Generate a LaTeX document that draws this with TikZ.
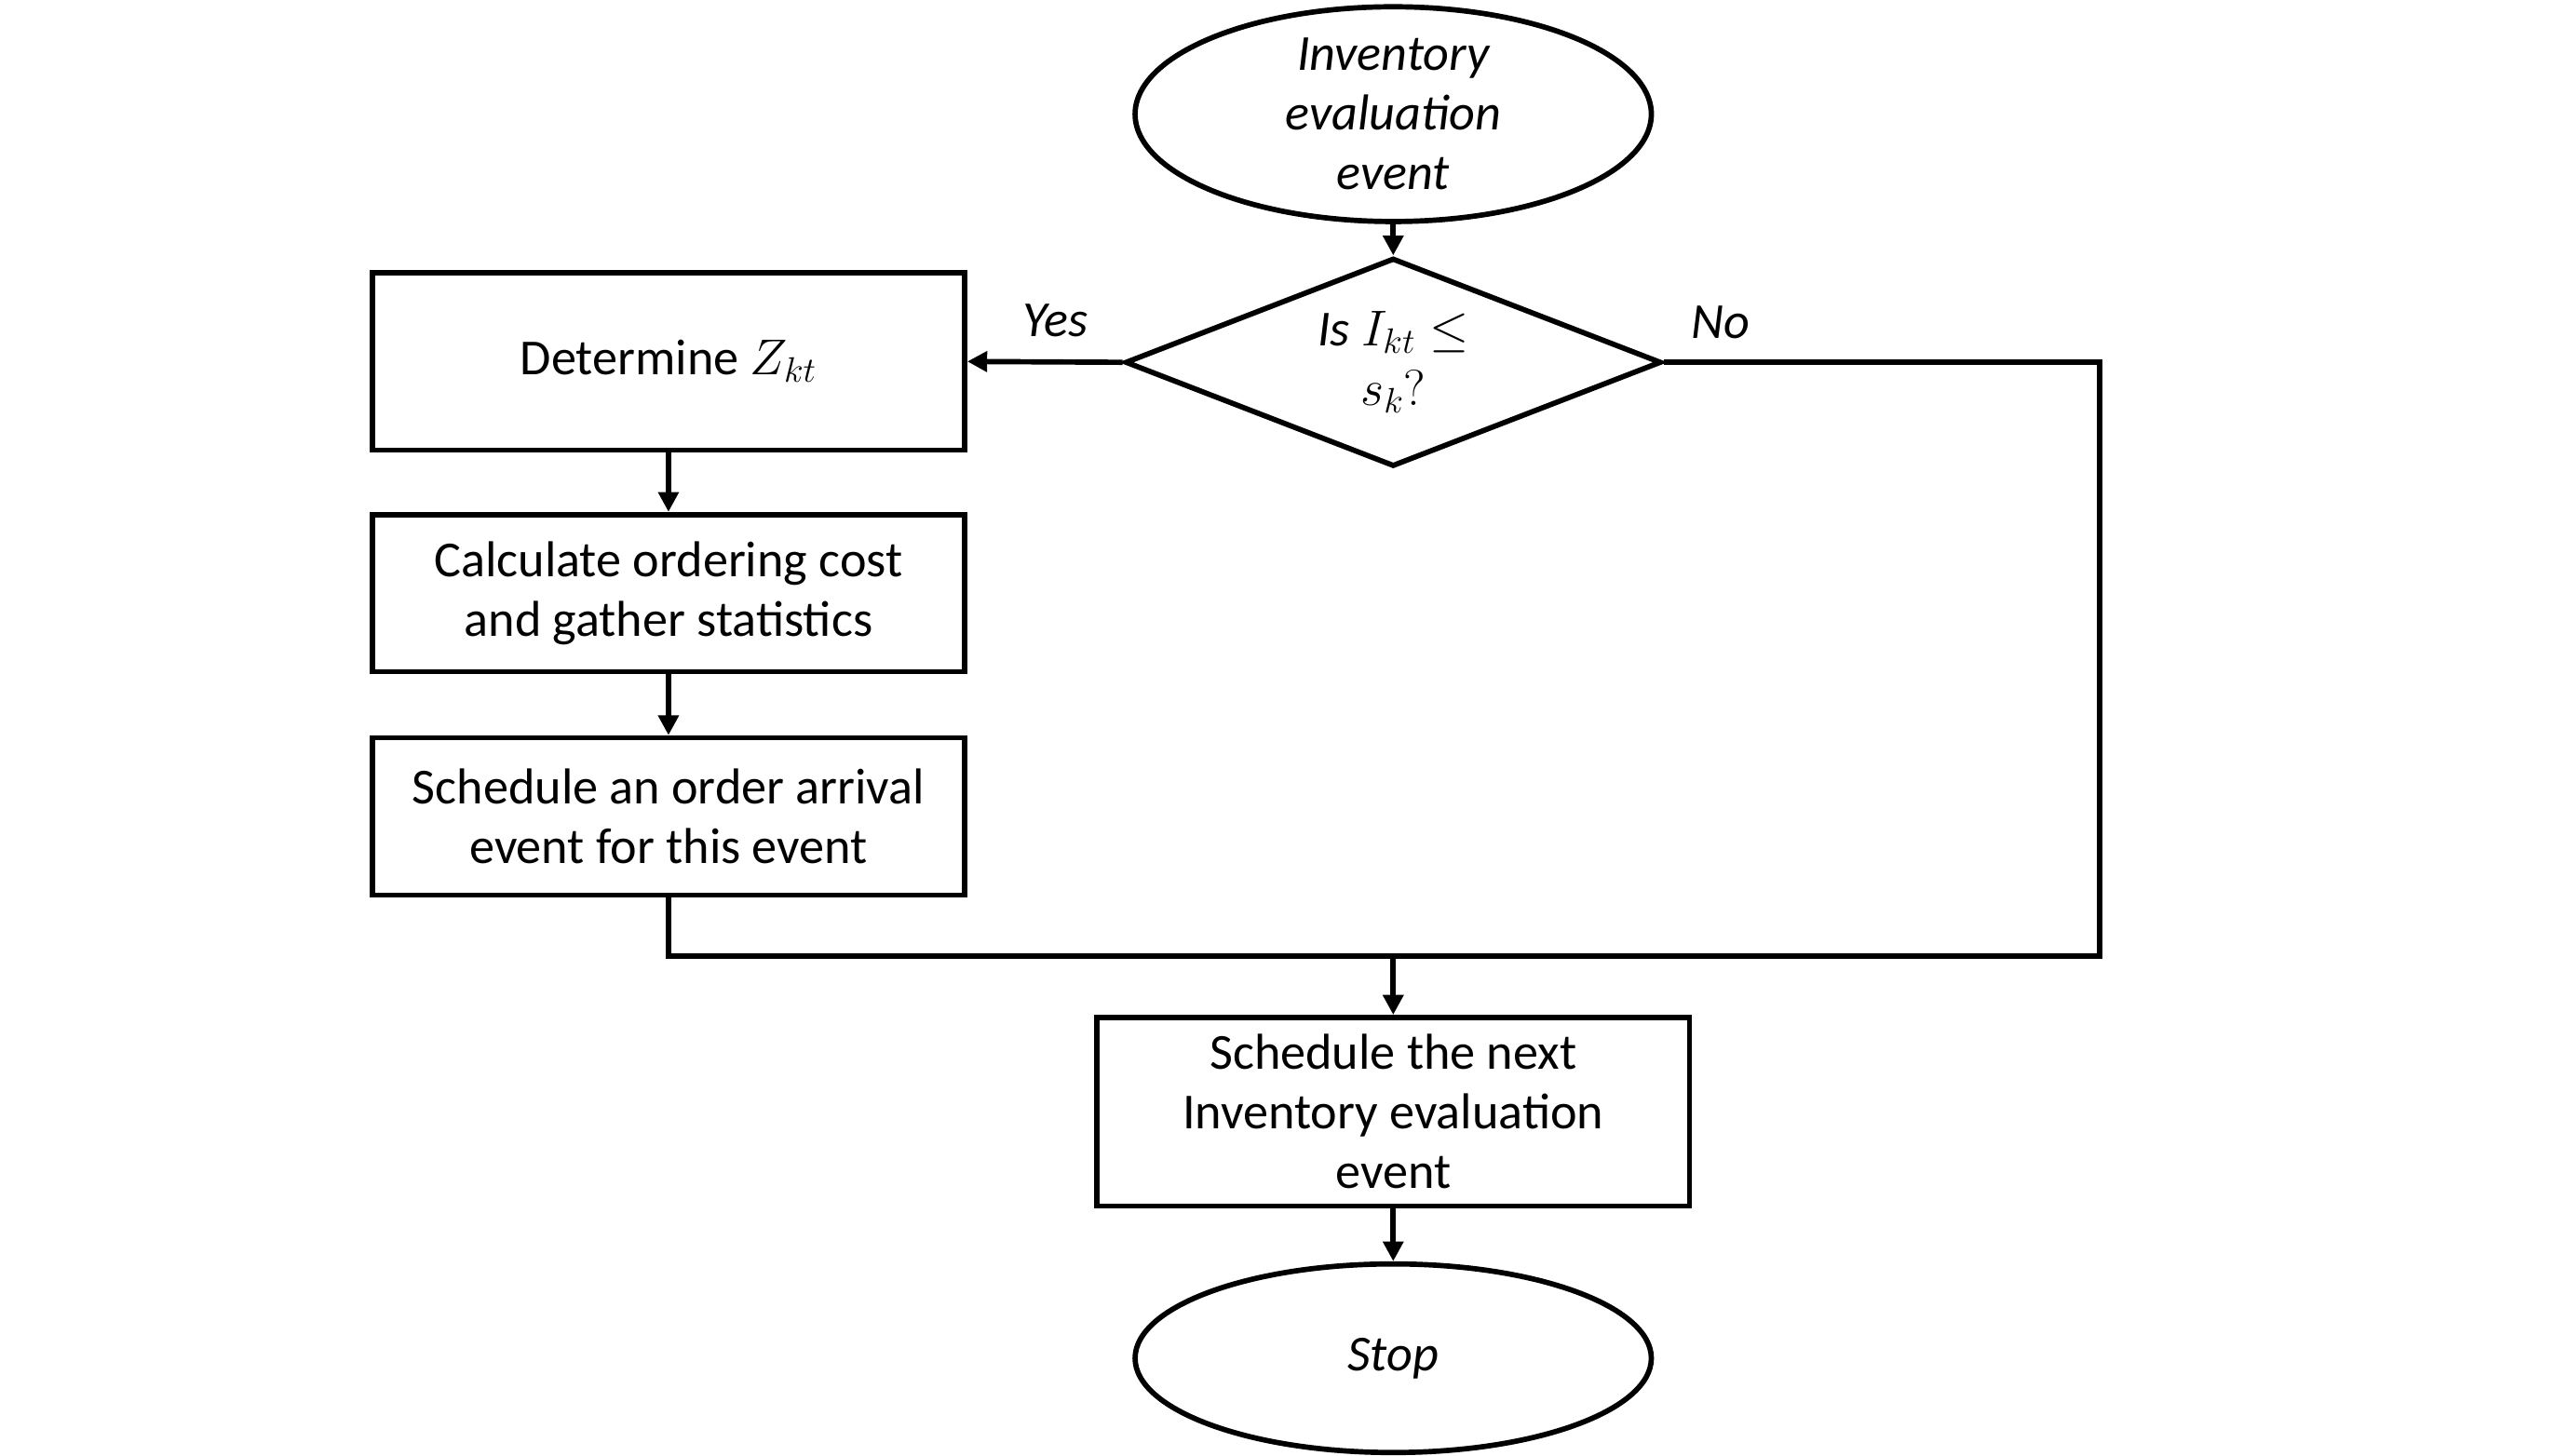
\RequirePackage{fix-cm}
\documentclass[tikz,border=0pt]{standalone}
\usepackage{fontspec}
\setmainfont{Carlito}
\usetikzlibrary{shapes.geometric,arrows.meta}
\begin{document}
\begin{tikzpicture}[x=1pt,y=-1pt,
  every node/.style={font=\fontsize{30.5}{36}\selectfont, align=center, inner sep=0pt},
  shp/.style={draw, line width=3.2pt},
  term/.style={shp, ellipse, minimum width=312pt, minimum height=114pt},
  procbox/.style={shp, rectangle, minimum width=358pt},
  decis/.style={shp, diamond, aspect=2.57, minimum width=324pt, minimum height=126pt},
  conn/.style={line width=3.2pt},
  arr/.style={conn, -{Triangle[length=12pt,width=12pt]}},
  lbl/.style={font=\fontsize{30.5}{36}\selectfont\itshape}
]
\useasboundingbox (0,0) rectangle (1552,880);
\node[term] (start) at (842,69) {\itshape Inventory\\\itshape evaluation\\\itshape event};
\node[decis] (dec) at (842,219) {\textit{Is} $I_{kt}\leq$\\$s_k?$};
\node[procbox, minimum height=107pt] (b1) at (404,218.5) {Determine $Z_{kt}$};
\node[procbox, minimum height=95pt] (b2) at (404,358.5) {Calculate ordering cost\\and gather statistics};
\node[procbox, minimum height=95pt] (b3) at (404,493.5) {Schedule an order arrival\\event for this event};
\node[procbox, minimum height=114pt] (b4) at (842,672) {Schedule the next\\Inventory evaluation\\event};
\node[term] (stop) at (842,821) {\itshape Stop};
\coordinate (j) at (842,578);
\coordinate (r) at (1269,578);
\node[lbl] (yes) at (638,194) {Yes};
\node[lbl] (no) at (1040,195) {No};
\draw[arr] (start.south) -- (dec.north);
\draw[arr] (dec.west) -- (b1.east);
\draw[arr] (b1.south) -- (b2.north);
\draw[arr] (b2.south) -- (b3.north);
\draw[conn] (b3.south) |- (j);
\draw[conn, line join=miter] (dec.east) -| (r) -- (j);
\draw[arr] (j) -- (b4.north);
\draw[arr] (b4.south) -- (stop.north);
\end{tikzpicture}
\end{document}
